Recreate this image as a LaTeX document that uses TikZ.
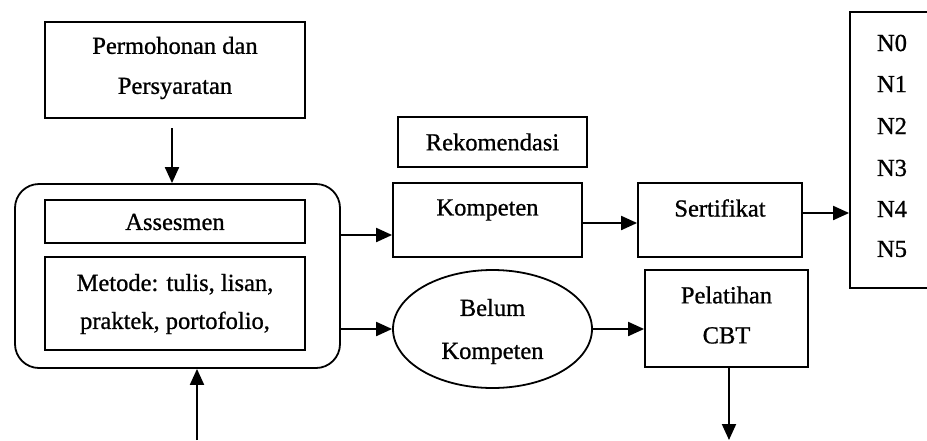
\documentclass[tikz,border=0pt]{standalone}
\usepackage{fontspec}
\setmainfont{Liberation Serif}[BoldFont={Liberation Serif},BoldFeatures={FakeBold=0.9}]
\usetikzlibrary{arrows.meta,shapes.geometric}
\begin{document}
\begin{tikzpicture}[x=1pt,y=-1pt,
  box/.style={draw,line width=1.8pt,rectangle,inner sep=0pt},
  txt/.style={font=\fontsize{24.5}{40}\selectfont\bfseries,align=center,inner sep=0pt},
  arr/.style={line width=2pt,-{Triangle[length=16pt,width=14pt]}}]
\useasboundingbox (0,0) rectangle (927,440);
\clip (0,0) rectangle (927,440);

% application box
\node[box,minimum width=260pt,minimum height=96pt] (perm) at (175,70) {};
\node[txt] (permt) at (175,68) {Permohonan dan\\Persyaratan};

% assessment group
\node[box,rounded corners=24pt,minimum width=325pt,minimum height=184pt] (outer) at (177.5,276) {};
\node[box,minimum width=260pt,minimum height=43pt] (asses) at (175,221.5) {};
\node[txt] (assest) at (175,222) {Assesmen};
\node[box,minimum width=260pt,minimum height=93pt] (metode) at (175,303.5) {};
\node[txt,font=\fontsize{24.5}{38}\selectfont\bfseries] (metodet) at (175,304) {Metode: tulis, lisan,\\praktek, portofolio,};

% recommendation and outcomes
\node[box,minimum width=189pt,minimum height=50pt] (rekom) at (492.5,142) {};
\node[txt] (rekomt) at (492.5,142) {Rekomendasi};
\node[box,minimum width=189pt,minimum height=74pt] (komp) at (487.5,220) {};
\node[txt] (kompt) at (487.5,210) {Kompeten};
\node[box,minimum width=164pt,minimum height=74pt] (sert) at (720,220) {};
\node[txt] (sertt) at (720,208) {Sertifikat};

% levels (box runs past the right margin)
\node[box,minimum width=100pt,minimum height=276pt] (nbox) at (900,150) {};
\foreach \n/\yy in {0/43,1/84,2/126,3/168,4/209,5/249}
  \node[txt] (n\n) at (892,\yy) {N\n};

% not yet competent branch
\node[draw,line width=1.8pt,ellipse,minimum width=199pt,minimum height=118pt,inner sep=0pt] (ell) at (492.5,329) {};
\node[txt,font=\fontsize{24.5}{43}\selectfont\bfseries] (ellt) at (492.5,331.5) {Belum\\Kompeten};
\node[box,minimum width=163pt,minimum height=97pt] (pel) at (726.5,318.5) {};
\node[txt] (pelt) at (726.5,315) {Pelatihan\\CBT};

% connectors
\coordinate (a1) at (172,128);
\draw[arr] (a1) -- (outer.north -| a1);
\draw[arr] (outer.east |- 0,235) -- (komp.west |- 0,235);
\draw[arr] (komp.east |- 0,223) -- (sert.west |- 0,223);
\draw[arr] (sert.east |- 0,213) -- (nbox.west |- 0,213);
\draw[arr] (outer.east |- ell) -- (ell.west);
\draw[arr] (ell.east) -- (pel.west |- ell);
\coordinate (outb) at (729,440);
\draw[arr] (pel.south -| outb) -- (outb);
\coordinate (inb) at (197,440);
\draw[arr] (inb) -- (outer.south -| inb);
\end{tikzpicture}
\end{document}
